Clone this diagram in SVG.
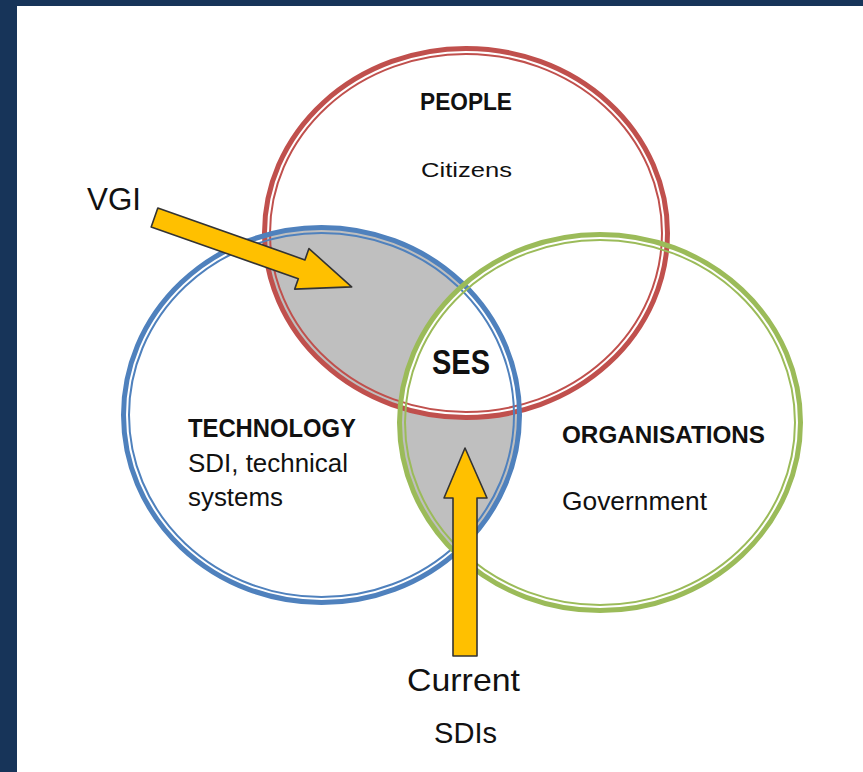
<svg xmlns="http://www.w3.org/2000/svg" width="863" height="772" viewBox="0 0 863 772">
<style>
.t{font-family:"Liberation Sans",Arial,sans-serif;fill:#111}
.b{font-weight:bold}
.outer{fill:none;stroke-width:5}
.inner{fill:none;stroke-width:2}
.red{stroke:#C0504D}
.blue{stroke:#4F81BD}
.green{stroke:#9BBB59}
.arrow{fill:#FFC000;stroke:#333;stroke-width:1.6;stroke-linejoin:round}
</style>
<defs>
<clipPath id="clipRed"><ellipse cx="466" cy="233" rx="201.5" ry="184.5"/></clipPath>
<clipPath id="clipGreen"><ellipse cx="600" cy="422.5" rx="200.5" ry="188"/></clipPath>
</defs>
<rect x="0" y="0" width="863" height="772" fill="#173459"/>
<rect x="17" y="6" width="846" height="766" fill="#FFFFFF"/>

<g id="overlaps">
<ellipse cx="321.5" cy="415" rx="198" ry="187.5" fill="#BFBFBF" clip-path="url(#clipRed)"/>
<ellipse cx="321.5" cy="415" rx="198" ry="187.5" fill="#BFBFBF" clip-path="url(#clipGreen)"/>
<ellipse cx="600" cy="422.5" rx="200.5" ry="188" fill="#FFFFFF" clip-path="url(#clipRed)"/>
</g>

<g id="people">
<ellipse class="outer red" cx="466" cy="233" rx="201.5" ry="184.5"/>
<ellipse class="inner red" cx="466" cy="233" rx="196" ry="179"/>
<text class="t b" x="466" y="110" font-size="24" text-anchor="middle" textLength="92" lengthAdjust="spacingAndGlyphs">PEOPLE</text>
<text class="t" x="466.5" y="177" font-size="21" text-anchor="middle" textLength="91" lengthAdjust="spacingAndGlyphs">Citizens</text>
</g>

<g id="technology">
<ellipse class="outer blue" cx="321.5" cy="415" rx="198" ry="187.5"/>
<ellipse class="inner blue" cx="321.5" cy="415" rx="192.5" ry="182"/>
<text class="t b" x="188" y="437" font-size="25" textLength="168" lengthAdjust="spacingAndGlyphs" fill="#1a1a33">TECHNOLOGY</text>
<text class="t" x="188" y="472" font-size="26" textLength="160" lengthAdjust="spacingAndGlyphs">SDI, technical</text>
<text class="t" x="188" y="506" font-size="26" textLength="95" lengthAdjust="spacingAndGlyphs">systems</text>
</g>

<g id="organisations">
<ellipse class="outer green" cx="600" cy="422.5" rx="200.5" ry="188"/>
<ellipse class="inner green" cx="600" cy="422.5" rx="195" ry="182.5"/>
<text class="t b" x="562" y="443" font-size="24" textLength="203" lengthAdjust="spacingAndGlyphs">ORGANISATIONS</text>
<text class="t" x="562" y="510" font-size="25" textLength="145" lengthAdjust="spacingAndGlyphs">Government</text>
</g>

<g id="ses">
<text class="t b" x="461" y="374" font-size="35" text-anchor="middle" textLength="58" lengthAdjust="spacingAndGlyphs">SES</text>
</g>

<g id="vgi">
<text class="t" x="87" y="210" font-size="32" textLength="54" lengthAdjust="spacingAndGlyphs">VGI</text>
</g>

<g id="current-sdis">
<text class="t" x="463.5" y="691" font-size="32" text-anchor="middle" textLength="113" lengthAdjust="spacingAndGlyphs">Current</text>
<text class="t" x="465.5" y="743" font-size="30" text-anchor="middle" textLength="63" lengthAdjust="spacingAndGlyphs">SDIs</text>
</g>

<g id="connectors">
<polygon class="arrow" transform="translate(154.5,217.5) rotate(19.4)" points="0,-10 156,-10 156,-22 209,0 156,21 156,10 0,10"/>
<polygon class="arrow" points="453,656 453,498 444,498 465,448 487,498 477,498 477,656"/>
</g>
</svg>
